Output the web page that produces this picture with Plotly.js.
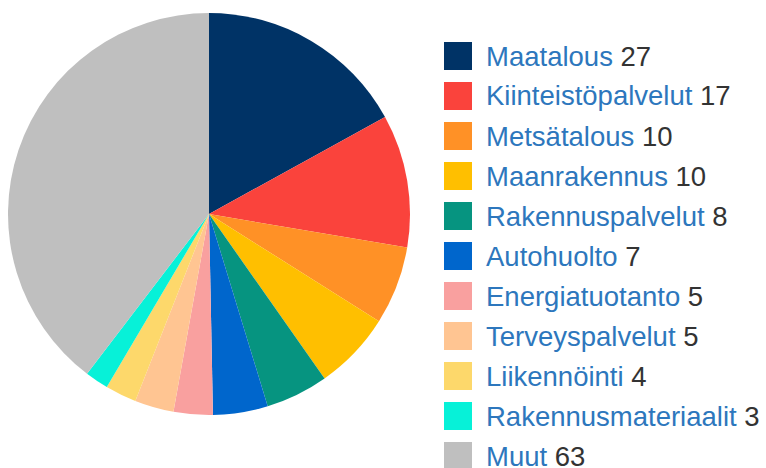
<!DOCTYPE html>
<html><head><meta charset="utf-8">
<script src="https://cdn.plot.ly/plotly-3.0.1.min.js"></script>
<style>html,body{margin:0;padding:0;background:#fff}</style>
</head><body>
<div id="chart" style="width:766px;height:468px"></div>
<script>
const labels = ["Maatalous","Kiinteistöpalvelut","Metsätalous","Maanrakennus","Rakennuspalvelut","Autohuolto","Energiatuotanto","Terveyspalvelut","Liikennöinti","Rakennusmateriaalit","Muut"];
const values = [27,17,10,10,8,7,5,5,4,3,63];
const colors = ["#003366","#fa433c","#ff9126","#ffbf00","#069480","#0066cc","#f9a09f","#ffc592","#fdd86b","#07f1d8","#bfbfbf"];

const W = 766, H = 468;
const shapes = [], annotations = [];
labels.forEach((lab, i) => {
  const top = 42 + i * 40;
  shapes.push({type:"rect", xref:"paper", yref:"paper",
    x0: 444/W, x1: 472/W, y0: 1 - (top+28)/H, y1: 1 - top/H,
    fillcolor: colors[i], line:{width:0}});
  annotations.push({xref:"paper", yref:"paper", x: 485/W, y: 1 - (top+14)/H,
    xanchor:"left", yanchor:"middle", showarrow:false, borderpad:0,
    text: lab + " <span style='color:#333333'>" + values[i] + "</span>",
    font:{family:"Liberation Sans, Arial, sans-serif", size:27.5, color:"#2d77bd"}});
});

Plotly.newPlot("chart", [{
  type:"pie", labels: labels, values: values, sort:false, direction:"clockwise", rotation:0,
  marker:{colors: colors, line:{width:0}}, textinfo:"none", hoverinfo:"label+value",
  domain:{x:[8/W, 410/W], y:[53/H, 455/H]}, showlegend:false
}], {
  width: W, height: H, margin:{l:0,r:0,t:0,b:0},
  paper_bgcolor:"#fff", plot_bgcolor:"#fff",
  shapes: shapes, annotations: annotations, showlegend:false
}, {displayModeBar:false, staticPlot:true});
</script>
</body></html>
